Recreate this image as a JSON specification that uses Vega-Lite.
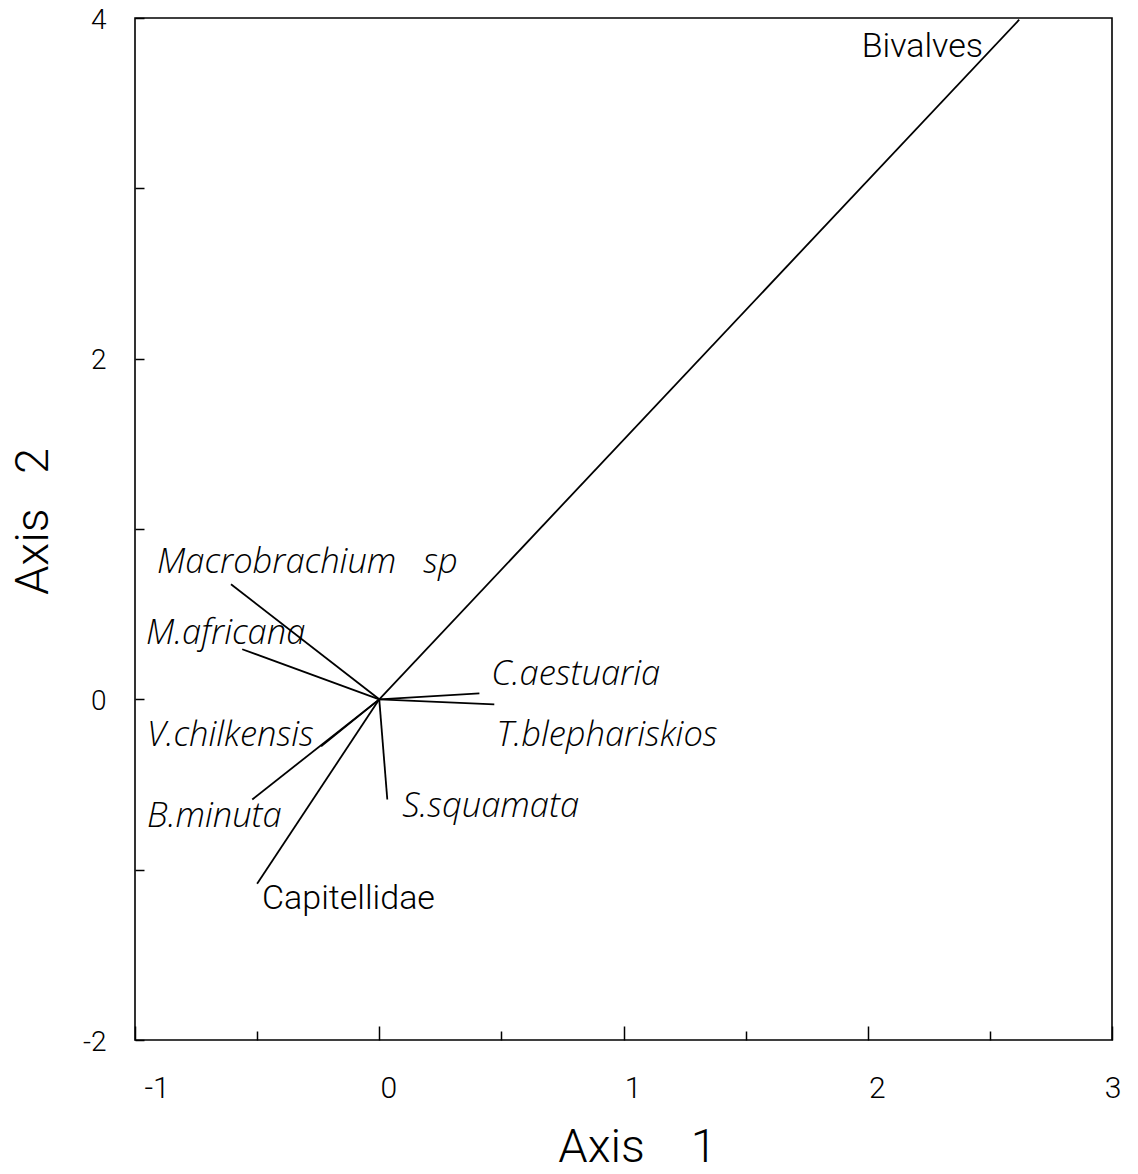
{
  "$schema": "https://vega.github.io/schema/vega-lite/v6.json",
  "width": 977,
  "height": 1022,
  "autosize": "none",
  "padding": {"left": 135, "top": 18, "right": 26, "bottom": 134},
  "background": "white",
  "config": {
    "view": {"stroke": "black", "strokeWidth": 1.6},
    "font": "Roboto",
    "axis": {"grid": false, "domain": false}
  },
  "data": {
    "values": [
      {"taxon": "Bivalves", "rank": "group", "x": 2.62, "y": 3.99, "lx": 1.975, "ly": 3.829},
      {"taxon": "Macrobrachium\u00a0\u00a0\u00a0sp", "rank": "species", "x": -0.607, "y": 0.676, "lx": -0.91, "ly": 0.8},
      {"taxon": "M.africana", "rank": "species", "x": -0.561, "y": 0.294, "lx": -0.955, "ly": 0.382},
      {"taxon": "V.chilkensis", "rank": "species", "x": -0.238, "y": -0.276, "lx": -0.951, "ly": -0.218},
      {"taxon": "B.minuta", "rank": "species", "x": -0.52, "y": -0.588, "lx": -0.951, "ly": -0.688},
      {"taxon": "Capitellidae", "rank": "group", "x": -0.5, "y": -1.082, "lx": -0.48, "ly": -1.171},
      {"taxon": "C.aestuaria", "rank": "species", "x": 0.41, "y": 0.035, "lx": 0.459, "ly": 0.141},
      {"taxon": "T.blephariskios", "rank": "species", "x": 0.471, "y": -0.03, "lx": 0.48, "ly": -0.218},
      {"taxon": "S.squamata", "rank": "species", "x": 0.033, "y": -0.588, "lx": 0.094, "ly": -0.635}
    ]
  },
  "layer": [
    {
      "mark": {"type": "rule", "color": "black", "strokeWidth": 1.8},
      "encoding": {
        "x": {
          "field": "x",
          "type": "quantitative",
          "scale": {"domain": [-1, 3], "nice": false, "zero": false},
          "axis": {
            "title": "Axis\u00a0\u00a0\u00a0\u00a01",
            "values": [-1, -0.5, 0, 0.5, 1, 1.5, 2, 2.5, 3],
            "labelExpr": "datum.value % 1 == 0 ? toString(datum.value) : ''",
            "tickSize": {"condition": {"test": "datum.value % 1 == 0", "value": -14}, "value": -9},
            "tickColor": "black",
            "tickWidth": 1.5,
            "labelFontSize": 30,
            "labelFontWeight": 300,
            "labelColor": "black",
            "labelPadding": 47,
            "labelOffset": 9,
            "titleFontSize": 47,
            "titleFontWeight": 300,
            "titleColor": "black",
            "titleBaseline": "alphabetic",
            "titleX": 502,
            "titleY": 121
          }
        },
        "y": {
          "field": "y",
          "type": "quantitative",
          "scale": {"domain": [-2, 4], "nice": false, "zero": false},
          "axis": {
            "title": "Axis\u00a0\u00a0\u00a02",
            "values": [-2, -1, 0, 1, 2, 3, 4],
            "labelExpr": "datum.value % 2 == 0 ? toString(datum.value) : ''",
            "tickSize": -9,
            "tickColor": "black",
            "tickWidth": 1.5,
            "labelFontSize": 28,
            "labelFontWeight": 300,
            "labelColor": "black",
            "labelPadding": 38,
            "labelOffset": 2,
            "titleFontSize": 47,
            "titleFontWeight": 300,
            "titleColor": "black",
            "titleBaseline": "alphabetic",
            "titleX": -88,
            "titleY": 503
          }
        },
        "x2": {"datum": 0},
        "y2": {"datum": 0}
      }
    },
    {
      "transform": [{"filter": "datum.rank == 'species'"}],
      "mark": {"type": "text", "align": "left", "baseline": "middle", "font": "Open Sans", "fontSize": 34.5, "fontStyle": "italic", "fontWeight": 300, "color": "black"},
      "encoding": {
        "x": {"field": "lx", "type": "quantitative"},
        "y": {"field": "ly", "type": "quantitative"},
        "text": {"field": "taxon"}
      }
    },
    {
      "transform": [{"filter": "datum.rank == 'group'"}],
      "mark": {"type": "text", "align": "left", "baseline": "middle", "fontSize": 34, "fontWeight": 300, "color": "black"},
      "encoding": {
        "x": {"field": "lx", "type": "quantitative"},
        "y": {"field": "ly", "type": "quantitative"},
        "text": {"field": "taxon"}
      }
    }
  ]
}
